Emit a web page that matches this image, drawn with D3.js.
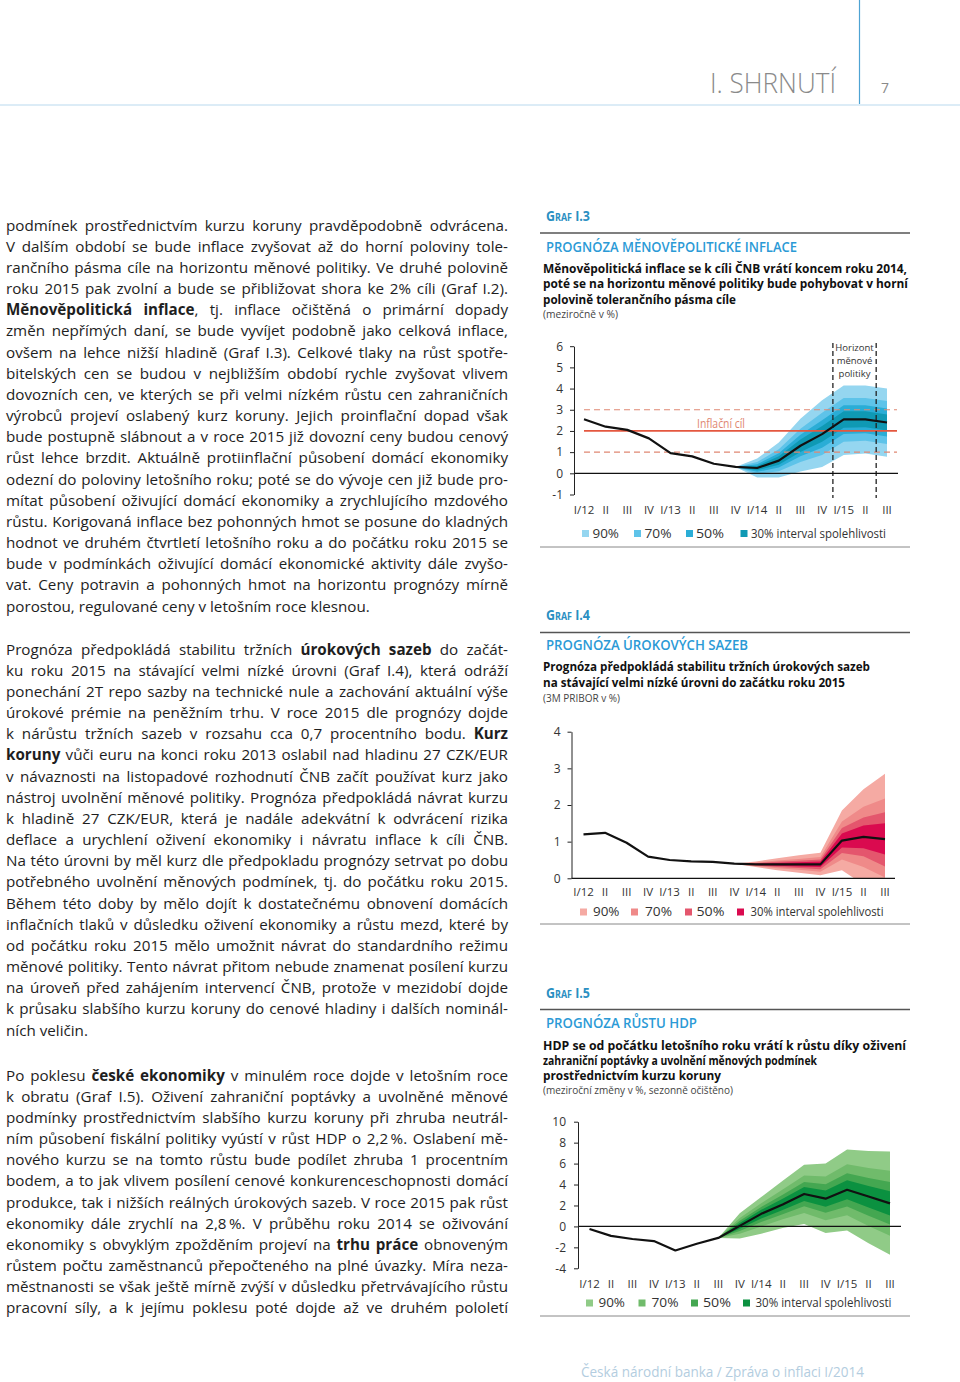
<!DOCTYPE html>
<html><head><meta charset="utf-8">
<script src="https://cdn.jsdelivr.net/npm/d3@7"></script>
<style>
html,body{margin:0;padding:0;background:#fff;}
#page{position:relative;width:960px;height:1382px;overflow:hidden;background:#fff;}
svg{position:absolute;left:0;top:0;}
.ln{position:absolute;left:6px;white-space:nowrap;font-family:"Open Sans",sans-serif;font-size:15.2px;color:#1e1e1e;line-height:21px;}
.ln b{font-weight:700;}
</style></head><body><div id="page"></div>
<script>
// ---------------- DATA ----------------
const quarterLabels = ["I/12","II","III","IV","I/13","II","III","IV","I/14","II","III","IV","I/15","II","III"];

// Graf I.3 – měnověpolitická inflace
const inflTicks = [-1,0,1,2,3,4,5,6];
const inflMedian = [2.55,2.2,2.05,1.65,0.95,0.8,0.45,0.3,0.25,0.6,1.3,1.85,2.55,2.55,2.4];
const inflFanStart = 7;
const infl90lo = [0.3,-0.2,-0.2,0.08,0.3,0.86,0.94,0.78];
const infl90hi = [0.3,0.7,1.45,2.58,3.45,4.15,4.15,4.0];
const infl70lo = [0.3,-0.03,0.1,0.53,0.87,1.49,1.54,1.38];
const infl70hi = [0.3,0.53,1.13,2.1,2.86,3.56,3.56,3.41];
const infl50lo = [0.3,0.07,0.27,0.8,1.21,1.86,1.89,1.74];
const infl50hi = [0.3,0.43,0.95,1.82,2.51,3.21,3.21,3.06];
const infl30lo = [0.3,0.15,0.41,1.01,1.49,2.15,2.17,2.02];
const infl30hi = [0.3,0.35,0.8,1.6,2.23,2.93,2.93,2.78];
const inflTarget = 2;
const inflTolerance = [1,3];
const horizonIdx = [11.5,13.5];

// Graf I.4 – úrokové sazby (3M PRIBOR)
const rateTicks = [0,1,2,3,4];
const rateMedian = [1.2,1.24,0.97,0.59,0.5,0.46,0.45,0.4,0.38,0.38,0.38,0.38,1.03,1.13,1.07];
const rateFanStart = 7;
const rate90lo = [0.4,0.31,0.22,0.15,0.08,0.22,-0.17,-0.71];
const rate90hi = [0.4,0.46,0.55,0.63,0.7,1.85,2.43,2.85];
const rate70lo = [0.4,0.33,0.275,0.23,0.18,0.51,0.31,0.02];
const rate70hi = [0.4,0.43,0.485,0.53,0.58,1.55,1.95,2.18];
const rate50lo = [0.4,0.347,0.31,0.28,0.25,0.69,0.6,0.32];
const rate50hi = [0.4,0.413,0.45,0.48,0.51,1.37,1.66,1.8];
const rate30lo = [0.4,0.36,0.34,0.32,0.305,0.84,0.82,0.65];
const rate30hi = [0.4,0.4,0.42,0.44,0.455,1.22,1.44,1.5];

// Graf I.5 – růst HDP
const gdpTicks = [-4,-2,0,2,4,6,8,10];
const gdpMedian = [-0.25,-0.9,-1.2,-1.4,-2.3,-1.65,-1.1,0.05,1.2,2.1,3.1,2.65,3.5,2.85,2.2];
const gdpFanStart = 6;
const gdp90lo = [-1.1,-1.15,-0.7,-0.16,0.22,-0.64,-0.38,-1.6,-2.7];
const gdp90hi = [-1.1,1.25,2.8,4.35,5.9,6.0,7.35,7.2,7.15];
const gdp70lo = [-1.1,-0.71,0.0,0.68,1.29,0.58,1.06,0.05,-0.89];
const gdp70hi = [-1.1,0.81,2.21,3.52,4.86,4.76,5.93,5.59,5.32];
const gdp50lo = [-1.1,-0.44,0.42,1.17,1.92,1.3,1.91,1.03,0.19];
const gdp50hi = [-1.1,0.54,1.86,3.02,4.25,4.02,5.08,4.63,4.23];
const gdp30lo = [-1.1,-0.23,0.75,1.57,2.42,1.88,2.59,1.8,1.05];
const gdp30hi = [-1.1,0.33,1.58,2.63,3.76,3.44,4.4,3.87,3.36];

const legendLabels = ["90%","70%","50%","30% interval spolehlivosti"];

// ---------------- TEXT ----------------
const para1 = [
"podmínek prostřednictvím kurzu koruny pravděpodobně odvrácena.",
"V dalším období se bude inflace zvyšovat až do horní poloviny tole-",
"rančního pásma cíle na horizontu měnové politiky. Ve druhé polovině",
"roku 2015 pak zvolní a bude se přibližovat shora ke 2% cíli (Graf I.2).",
"<b>Měnověpolitická inflace</b>, tj. inflace očištěná o primární dopady",
"změn nepřímých daní, se bude vyvíjet podobně jako celková inflace,",
"ovšem na lehce nižší hladině (Graf I.3). Celkové tlaky na růst spotře-",
"bitelských cen se budou v nejbližším období rychle zvyšovat vlivem",
"dovozních cen, ve kterých se při velmi nízkém růstu cen zahraničních",
"výrobců projeví oslabený kurz koruny. Jejich proinflační dopad však",
"bude postupně slábnout a v roce 2015 již dovozní ceny budou cenový",
"růst lehce brzdit. Aktuálně protiinflační působení domácí ekonomiky",
"odezní do poloviny letošního roku; poté se do vývoje cen již bude pro-",
"mítat působení oživující domácí ekonomiky a zrychlujícího mzdového",
"růstu. Korigovaná inflace bez pohonných hmot se posune do kladných",
"hodnot ve druhém čtvrtletí letošního roku a do počátku roku 2015 se",
"bude v podmínkách oživující domácí ekonomické aktivity dále zvyšo-",
"vat. Ceny potravin a pohonných hmot na horizontu prognózy mírně",
"porostou, regulované ceny v letošním roce klesnou."
];
const para2 = [
"Prognóza předpokládá stabilitu tržních <b>úrokových sazeb</b> do začát-",
"ku roku 2015 na stávající velmi nízké úrovni (Graf I.4), která odráží",
"ponechání 2T repo sazby na technické nule a zachování aktuální výše",
"úrokové prémie na peněžním trhu. V roce 2015 dle prognózy dojde",
"k nárůstu tržních sazeb v rozsahu cca 0,7 procentního bodu. <b>Kurz</b>",
"<b>koruny</b> vůči euru na konci roku 2013 oslabil nad hladinu 27 CZK/EUR",
"v návaznosti na listopadové rozhodnutí ČNB začít používat kurz jako",
"nástroj uvolnění měnové politiky. Prognóza předpokládá návrat kurzu",
"k hladině 27 CZK/EUR, která je nadále adekvátní k odvrácení rizika",
"deflace a urychlení oživení ekonomiky i návratu inflace k cíli ČNB.",
"Na této úrovni by měl kurz dle předpokladu prognózy setrvat po dobu",
"potřebného uvolnění měnových podmínek, tj. do počátku roku 2015.",
"Během této doby by mělo dojít k dostatečnému obnovení domácích",
"inflačních tlaků v důsledku oživení ekonomiky a růstu mezd, které by",
"od počátku roku 2015 mělo umožnit návrat do standardního režimu",
"měnové politiky. Tento návrat přitom nebude znamenat posílení kurzu",
"na úroveň před zahájením intervencí ČNB, protože v mezidobí dojde",
"k průsaku slabšího kurzu koruny do cenové hladiny i dalších nominál-",
"ních veličin."
];
const para3 = [
"Po poklesu <b>české ekonomiky</b> v minulém roce dojde v letošním roce",
"k obratu (Graf I.5). Oživení zahraniční poptávky a uvolněné měnové",
"podmínky prostřednictvím slabšího kurzu koruny při zhruba neutrál-",
"ním působení fiskální politiky vyústí v růst HDP o 2,2\u2009%. Oslabení mě-",
"nového kurzu se na tomto růstu bude podílet zhruba 1 procentním",
"bodem, a to jak vlivem posílení cenové konkurenceschopnosti domácí",
"produkce, tak i nižších reálných úrokových sazeb. V roce 2015 pak růst",
"ekonomiky dále zrychlí na 2,8\u2009%. V průběhu roku 2014 se oživování",
"ekonomiky s obvyklým zpožděním projeví na <b>trhu práce</b> obnoveným",
"růstem počtu zaměstnanců přepočteného na plné úvazky. Míra neza-",
"městnanosti se však ještě mírně zvýší v důsledku přetrvávajícího růstu",
"pracovní síly, a k jejímu poklesu poté dojde až ve druhém pololetí"
];

const page = d3.select("#page");
const svg = page.append("svg").attr("width",960).attr("height",1382);
const FONT = '"Open Sans", sans-serif';

// ---------- body text ----------
const LINE_H = 21.17, TEXT_W = 502;
function drawParagraph(lines, firstCenter, lastJustified){
  lines.forEach((t,i)=>{
    const div = page.append("div").attr("class","ln")
      .style("top",(firstCenter + i*LINE_H - 10.5)+"px");
    const span = div.append("span").html(t);
    const node = span.node();
    let w = node.getBoundingClientRect().width;
    const txt = node.textContent;
    if (w > TEXT_W){
      span.style("letter-spacing", ((TEXT_W - w)/txt.length - 0.02)+"px");
      w = node.getBoundingClientRect().width;
    }
    const justify = (i < lines.length-1) || lastJustified;
    const nSp = (txt.match(/ /g)||[]).length;
    if (justify && nSp>0){
      span.style("word-spacing", ((TEXT_W - w)/nSp)+"px");
    }
  });
}
drawParagraph(para1, 225, false);
drawParagraph(para2, 649, false);
drawParagraph(para3, 1075, true);

// ---------- header / footer ----------
svg.append("line").attr("x1",859.5).attr("x2",859.5).attr("y1",0).attr("y2",104)
  .attr("stroke","#4ea3d3").attr("stroke-width",1.2);
svg.append("line").attr("x1",0).attr("x2",960).attr("y1",105).attr("y2",105)
  .attr("stroke","#b9d9ee").attr("stroke-width",1);
svg.append("text").attr("x",710).attr("y",93).attr("font-family",FONT).attr("font-size",27)
  .attr("font-weight",300).attr("fill","#8a8a8a").attr("textLength",126).attr("lengthAdjust","spacingAndGlyphs")
  .text("I.  SHRNUTÍ");
svg.append("text").attr("x",881).attr("y",93).attr("font-family",FONT).attr("font-size",14)
  .attr("fill","#8a8a8a").text("7");
svg.append("text").attr("x",581).attr("y",1377).attr("font-family",FONT).attr("font-size",14)
  .attr("fill","#b3cde0").attr("textLength",283).attr("lengthAdjust","spacingAndGlyphs")
  .text("Česká národní banka / Zpráva o inflaci I/2014");

// ---------- chart headings ----------
function heading(cfg){
  const g = svg.append("g");
  g.append("text").attr("x",546).attr("y",cfg.grafY).attr("font-family",FONT).attr("font-size",14)
    .attr("font-weight",700).attr("font-variant","small-caps").attr("fill","#2a8fc2")
    .attr("textLength",44).attr("lengthAdjust","spacingAndGlyphs").text(cfg.graf);
  g.append("line").attr("x1",540).attr("x2",910).attr("y1",cfg.ruleY).attr("y2",cfg.ruleY)
    .attr("stroke","#555").attr("stroke-width",1.4);
  g.append("text").attr("x",546).attr("y",cfg.titleY).attr("font-family",FONT).attr("font-size",15)
    .attr("font-weight",600).attr("fill","#2b9ad6")
    .attr("textLength",cfg.titleW).attr("lengthAdjust","spacingAndGlyphs").text(cfg.title);
  cfg.sub.forEach((s,i)=>{
    g.append("text").attr("x",543).attr("y",cfg.subY[i]).attr("font-family",FONT).attr("font-size",12.5)
      .attr("font-weight",700).attr("fill","#111")
      .attr("textLength",cfg.subW[i]).attr("lengthAdjust","spacingAndGlyphs").text(s);
  });
  g.append("text").attr("x",543).attr("y",cfg.unitY).attr("font-family",FONT).attr("font-size",10.5)
    .attr("fill","#444").attr("textLength",cfg.unitW).attr("lengthAdjust","spacingAndGlyphs").text(cfg.unit);
  g.append("line").attr("x1",540).attr("x2",910).attr("y1",cfg.bottomY).attr("y2",cfg.bottomY)
    .attr("stroke","#888").attr("stroke-width",1);
}

heading({graf:"Graf I.3", grafY:220.5, ruleY:233, title:"PROGNÓZA MĚNOVĚPOLITICKÉ INFLACE", titleY:251.5, titleW:251,
  sub:["Měnověpolitická inflace se k cíli ČNB vrátí koncem roku 2014,",
       "poté se na horizontu měnové politiky bude pohybovat v horní",
       "polovině tolerančního pásma cíle"],
  subY:[272.5,288,303.5], subW:[364,365,193], unit:"(meziročně v %)", unitY:317.5, unitW:75, bottomY:547});
heading({graf:"Graf I.4", grafY:620, ruleY:632.5, title:"PROGNÓZA ÚROKOVÝCH SAZEB", titleY:649.5, titleW:202,
  sub:["Prognóza předpokládá stabilitu tržních úrokových sazeb",
       "na stávající velmi nízké úrovni do začátku roku 2015"],
  subY:[671,686.5], subW:[327,302], unit:"(3M PRIBOR v %)", unitY:701.5, unitW:77, bottomY:924});
heading({graf:"Graf I.5", grafY:997.5, ruleY:1009.5, title:"PROGNÓZA RŮSTU HDP", titleY:1027.5, titleW:151,
  sub:["HDP se od počátku letošního roku vrátí k růstu díky oživení",
       "zahraniční poptávky a uvolnění měnových podmínek",
       "prostřednictvím kurzu koruny"],
  subY:[1049.5,1065,1080], subW:[363,274,178], unit:"(meziroční změny v %, sezonně očištěno)", unitY:1094, unitW:190, bottomY:1316});

// ---------- fan chart ----------
function fanChart(cfg){
  const x = d3.scaleLinear().domain([0, quarterLabels.length-1]).range(cfg.xr);
  const y = d3.scaleLinear().domain(cfg.yd).range(cfg.yr);
  const g = svg.append("g");
  const clipId = cfg.id + "-clip";
  g.append("clipPath").attr("id",clipId).append("rect")
    .attr("x",cfg.axisX).attr("y",y(cfg.yd[1])).attr("width",360).attr("height",y(cfg.yd[0])-y(cfg.yd[1]));
  const fg = g.append("g").attr("clip-path",`url(#${clipId})`);
  const area = d3.area().x(d=>x(d.i)).y0(d=>y(d.lo)).y1(d=>y(d.hi));
  cfg.bands.forEach((b,k)=>{
    const data = b[0].map((lo,j)=>({i:cfg.fanStart+j, lo:lo, hi:b[1][j]}));
    fg.append("path").datum(data).attr("fill",cfg.colors[k]).attr("d",area);
  });
  if (cfg.extra) cfg.extra(g, x, y);
  // zero line
  g.append("line").attr("x1",cfg.axisX).attr("x2",cfg.zeroEnd).attr("y1",y(0)).attr("y2",y(0))
    .attr("stroke","#111").attr("stroke-width",1.2);
  // y axis
  const ax = g.append("g").attr("transform",`translate(${cfg.axisX},0)`)
    .call(d3.axisLeft(y).tickValues(cfg.ticks).tickSize(4).tickSizeOuter(0).tickPadding(cfg.tickPad).tickFormat(d3.format("d")));
  ax.select(".domain").attr("stroke","#222").attr("stroke-width",1);
  ax.selectAll(".tick line").attr("stroke","#222");
  ax.selectAll("text").attr("font-family",FONT).attr("font-size",12).attr("fill","#333")
    .text(d=>d<0 ? "-"+Math.abs(d) : d);
  // x labels
  g.selectAll(".xl").data(quarterLabels).enter().append("text")
    .attr("x",(d,i)=>x(i)).attr("y",cfg.xLabY).attr("text-anchor","middle")
    .attr("font-family",FONT).attr("font-size",11.5).attr("fill","#333").text(d=>d);
  // median
  g.append("path").datum(cfg.median).attr("fill","none").attr("stroke","#111").attr("stroke-width",2.2)
    .attr("stroke-linejoin","round")
    .attr("d", d3.line().x((d,i)=>x(i)).y(d=>y(d)));
  // legend
  legendLabels.forEach((t,k)=>{
    g.append("rect").attr("x",cfg.legSq[k]-1).attr("y",cfg.legY-3.5).attr("width",7).attr("height",7).attr("fill",cfg.colors[k]);
    const tx = g.append("text").attr("x",cfg.legTx[k]+1.5).attr("y",cfg.legY+4.3).attr("font-family",FONT)
      .attr("font-size",12).attr("fill","#333").text(t);
    tx.attr("textLength",cfg.legW[k]).attr("lengthAdjust","spacingAndGlyphs");
  });
}

const blue = ["#95d6f0","#5ec3e9","#2aadd6","#0f99b4"];
const red = ["#f5aaa3","#ef8a89","#e4566d","#da0a4f"];
const green = ["#90cb87","#70bb6b","#44a751","#0b9140"];

fanChart({id:"c1", xr:[584,887], yd:[-1,6], yr:[494.5,346.2], axisX:574, zeroEnd:898, tickPad:7,
  ticks:inflTicks, median:inflMedian, fanStart:inflFanStart,
  bands:[[infl90lo,infl90hi],[infl70lo,infl70hi],[infl50lo,infl50hi],[infl30lo,infl30hi]],
  colors:blue, xLabY:513.5,
  legSq:[583,635,687,741.5], legTx:[591,643,694.5,749.5], legW:[26.5,27,28,135], legY:533.5,
  extra:(g,x,y)=>{
    const x0 = x(0), x1 = 897;
    inflTolerance.forEach(v=>{
      g.append("line").attr("x1",x0).attr("x2",x1).attr("y1",y(v)).attr("y2",y(v))
        .attr("stroke","#e08873").attr("stroke-width",1.2).attr("stroke-dasharray","6,4");
    });
    g.append("line").attr("x1",x0).attr("x2",x1).attr("y1",y(inflTarget)).attr("y2",y(inflTarget))
      .attr("stroke","#e4573f").attr("stroke-width",1.8);
    g.append("text").attr("x",721).attr("y",427.5).attr("text-anchor","middle").attr("font-family",FONT)
      .attr("font-size",12).attr("fill","#e08670").attr("textLength",48).attr("lengthAdjust","spacingAndGlyphs")
      .text("Inflační cíl");
    horizonIdx.forEach(h=>{
      g.append("line").attr("x1",x(h)).attr("x2",x(h)).attr("y1",343).attr("y2",498)
        .attr("stroke","#222").attr("stroke-width",1.3).attr("stroke-dasharray","5,3");
    });
    const cx = (x(horizonIdx[0])+x(horizonIdx[1]))/2;
    ["Horizont","měnové","politiky"].forEach((t,i)=>{
      g.append("text").attr("x",cx).attr("y",351+i*13).attr("text-anchor","middle").attr("font-family",FONT)
        .attr("font-size",9.5).attr("fill","#333").text(t);
    });
  }
});

fanChart({id:"c2", xr:[583.5,885], yd:[0,4], yr:[878.3,731.7], axisX:571.5, zeroEnd:895, tickPad:7,
  ticks:rateTicks, median:rateMedian, fanStart:rateFanStart,
  bands:[[rate90lo,rate90hi],[rate70lo,rate70hi],[rate50lo,rate50hi],[rate30lo,rate30hi]],
  colors:red, xLabY:896,
  legSq:[581,632,686,738], legTx:[591.5,643.5,695,749], legW:[26.5,27,28,133], legY:912});

fanChart({id:"c3", xr:[589.5,890], yd:[-4,10], yr:[1268.3,1121.7], axisX:578, zeroEnd:901, tickPad:8,
  ticks:gdpTicks, median:gdpMedian, fanStart:gdpFanStart,
  bands:[[gdp90lo,gdp90hi],[gdp70lo,gdp70hi],[gdp50lo,gdp50hi],[gdp30lo,gdp30hi]],
  colors:green, xLabY:1288,
  legSq:[587,639.5,692,744], legTx:[597,650,701.5,754], legW:[26.5,27,28,136], legY:1303});
</script>
</body></html>
